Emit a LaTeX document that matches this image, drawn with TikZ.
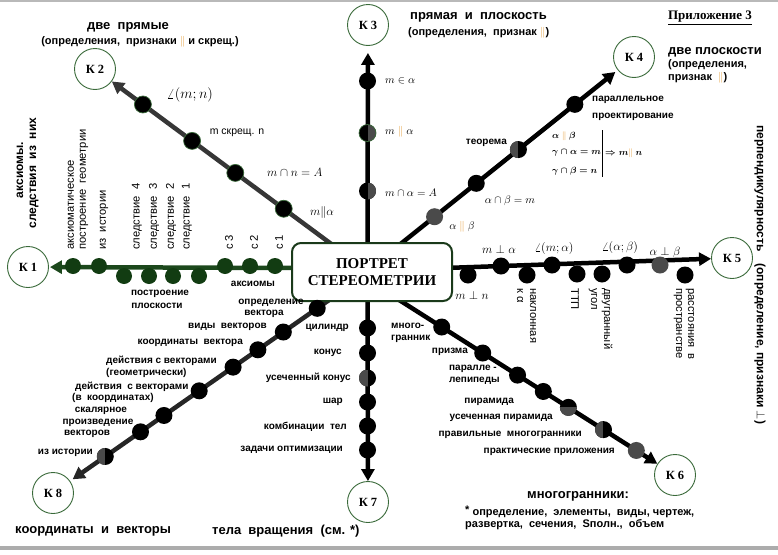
\documentclass[tikz,border=0pt]{standalone}
\usepackage{amsmath}
\usepackage[no-math]{fontspec}
\setmainfont{Liberation Sans}
\newfontfamily\serifnt{Liberation Serif}
\usetikzlibrary{arrows.meta,calc}
\definecolor{dkgreen}{HTML}{1C481C}
\definecolor{dotgreen}{HTML}{123C12}
\definecolor{kgreen}{HTML}{3A6A3A}
\definecolor{boxgreen}{HTML}{1A3A1A}
\definecolor{dgray}{HTML}{363636}
\definecolor{mgray}{HTML}{4A4A4A}
\definecolor{parcol}{HTML}{E39A35}
\newcommand{\parl}{\mathrel{\color{parcol}\|}}
\newcommand{\fs}[1]{\fontsize{#1}{#1}\selectfont}
\begin{document}
\begin{tikzpicture}[x=1pt,y=-1pt,
  kc/.style={circle,draw=kgreen,line width=0.9pt,fill=white,minimum size=41pt,inner sep=0pt,font=\serifnt\bfseries\fs{12.5}},
  dot/.style={circle,fill=black,minimum size=17pt,inner sep=0pt},
  gdot/.style={dot,draw=kgreen,line width=0.7pt},
  grdot/.style={circle,fill=dotgreen,minimum size=16pt,inner sep=0pt},
  graydot/.style={dot,fill=mgray},
  halfR/.style={dot,path picture={\fill[mgray] (path picture bounding box.north) rectangle (path picture bounding box.south east);}},
  halfL/.style={dot,path picture={\fill[mgray] (path picture bounding box.north west) rectangle (path picture bounding box.south);}},
  halfB/.style={dot,path picture={\fill[mgray] (path picture bounding box.west) rectangle (path picture bounding box.south east);}},
  spoke/.style={line width=4.5pt,-{Triangle[length=12pt,width=13pt]}},
  lbl/.style={font=\bfseries\fs{10},inner sep=0pt},
  vlbl/.style={font=\fs{11.2},inner sep=0pt},
  ml/.style={font=\fs{11},inner sep=0pt},
  tl/.style={font=\fs{9},inner sep=0pt,anchor=west},
  ttl/.style={font=\bfseries\fs{13},inner sep=0pt},
  sttl/.style={font=\bfseries\fs{11},inner sep=0pt}]
\useasboundingbox (0,0) rectangle (778,554);
\fill[gray!55] (0,0) rectangle (778,2);
\fill[gray!65] (0,546) rectangle (778,550);

% K circles
\node[kc] (K1) at (28,267) {К 1};
\node[kc] (K2) at (95,69) {К 2};
\node[kc] (K3) at (368,25) {К 3};
\node[kc] (K4) at (634,57) {К 4};
\node[kc] (K5) at (732,258) {К 5};
\node[kc] (K6) at (675,475) {К 6};
\node[kc] (K7) at (368,502) {К 7};
\node[kc] (K8) at (53,493) {К 8};

% spoke starts on the central box
\coordinate (s1) at (300,268);
\coordinate (s2) at (334,246);
\coordinate (s3) at (367.5,250);
\coordinate (s4) at (398,246);
\coordinate (s5) at (445,268);
\coordinate (s6) at (396,298);
\coordinate (s7) at (367.5,295);
\coordinate (s8) at (332,298);

\draw[spoke,dkgreen,shorten >=1pt] (s1) -- (K1);
\draw[spoke,dgray] (s2) -- (K2);
\draw[spoke,black,shorten >=7pt] (s3) -- (K3);
\draw[spoke,black,shorten >=3pt] (s4) -- (K4);
\draw[spoke,black] (s5) -- (K5);
\draw[spoke,black] (s6) -- (K6);
\draw[spoke,black] (s7) -- (K7);
\draw[spoke,black!85,shorten >=3pt] (s8) -- (K8);

% central box
\node[draw=boxgreen,line width=2pt,rounded corners=9pt,fill=white,minimum width=160pt,minimum height=58pt,align=center,font=\serifnt\bfseries\fontsize{15}{17}\selectfont] (C) at (372,272) {ПОРТРЕТ\\СТЕРЕОМЕТРИИ};

% K1 dots
\node[grdot] (a1) at (73,266) {};
\node[grdot] (a2) at (99,266) {};
\node[grdot] (a3) at (124,276) {};
\node[grdot] (a4) at (149,276) {};
\node[grdot] (a5) at (173,276) {};
\node[grdot] (a6) at (199,276) {};
\node[grdot] (a7) at (225,266) {};
\node[grdot] (a8) at (250,266) {};
\node[grdot] (a9) at (275,266) {};

% K2 dots
\node[gdot] (b1) at ($(s2)!(141,107)!(K2)$) {};
\node[gdot] (b2) at ($(s2)!(192,141)!(K2)$) {};
\node[gdot] (b3) at ($(s2)!(233,176)!(K2)$) {};
\node[gdot] (b4) at ($(s2)!(285,207)!(K2)$) {};

% K3 dots
\node[dot] (c1) at (367.5,81) {};
\node[halfR,draw=kgreen,line width=0.7pt] (c2) at (367.5,133) {};
\node[halfR] (c3) at (367.5,191) {};

% K4 dots
\node[graydot] (d1) at ($(s4)!(434,216)!(K4)$) {};
\node[dot] (d2) at ($(s4)!(476,183)!(K4)$) {};
\node[halfL] (d3) at ($(s4)!(518,149)!(K4)$) {};
\node[dot] (d4) at ($(s4)!(577,107)!(K4)$) {};

% K5 dots
\node[dot] (e1) at (468,275) {};
\node[dot] (e2) at (501,266) {};
\node[dot] (e3) at (527,275) {};
\node[dot] (e4) at (552,265) {};
\node[dot] (e5) at (577,274) {};
\node[dot] (e6) at (602,274) {};
\node[dot] (e7) at (627,265) {};
\node[graydot] (e8) at (660,265) {};
\node[dot] (e9) at (685,275) {};

% K6 dots
\node[dot] (f1) at ($(s6)!(443,325)!(K6)$) {};
\node[dot] (f2) at ($(s6)!(484,351)!(K6)$) {};
\node[dot] (f3) at ($(s6)!(517,376)!(K6)$) {};
\node[dot] (f4) at ($(s6)!(543,392)!(K6)$) {};
\node[halfB] (f5) at ($(s6)!(568,408)!(K6)$) {};
\node[halfL] (f6) at ($(s6)!(602,432)!(K6)$) {};
\node[graydot] (f7) at ($(s6)!(636,451)!(K6)$) {};

% K7 dots
\node[dot] (g1) at (367.5,328) {};
\node[dot] (g2) at (367.5,353) {};
\node[halfL] (g3) at (367.5,378) {};
\node[dot] (g4) at (367.5,402) {};
\node[dot] (g5) at (367.5,426) {};
\node[dot] (g6) at (367.5,450) {};

% K8 dots
\node[dot] (h1) at ($(s8)!(317,308)!(K8)$) {};
\node[dot] (h2) at ($(s8)!(284,333)!(K8)$) {};
\node[dot] (h3) at ($(s8)!(258,350)!(K8)$) {};
\node[dot] (h4) at ($(s8)!(233,367)!(K8)$) {};
\node[dot] (h5) at ($(s8)!(200,392)!(K8)$) {};
\node[dot] (h6) at ($(s8)!(165,417)!(K8)$) {};
\node[dot] (h7) at ($(s8)!(142,434)!(K8)$) {};
\node[halfL] (h8) at ($(s8)!(107,459)!(K8)$) {};

% ---- titles
\node[ttl] (t2) at (128,27) {две\ \ прямые};
\node[sttl] (t2b) at (140,42) {(определения,\ \ признаки {\color{parcol}$\|$} и скрещ.)};
\node[ttl,anchor=west] (t3) at (410,17) {прямая\ \ и\ \ плоскость};
\node[sttl,anchor=west] (t3b) at (408,33) {(определения,\ \ признак {\color{parcol}$\|$})};
\node[font=\serifnt\bfseries\fs{13},inner sep=0pt] (app) at (710,18) {\underline{Приложение 3}};
\node[ttl,anchor=west] (t4) at (668,52) {две плоскости};
\node[font=\bfseries\fs{11},inner sep=0pt,anchor=west] (t4b) at (668,65) {(определения,};
\node[font=\bfseries\fs{11},inner sep=0pt,anchor=west] (t4c) at (668,78) {признак\ \ {\color{parcol}$\|$})};
\node[font=\bfseries\fs{12},inner sep=0pt,rotate=90] (t1a) at (20,170) {аксиомы.};
\node[font=\bfseries\fs{12},inner sep=0pt,rotate=90] (t1b) at (34,173) {следствия\ \ из\ \ них};
\node[font=\bfseries\fs{12},inner sep=0pt,rotate=-90,anchor=west] (t5) at (760,125) {перпендикулярность\quad (определение,\ признаки $\perp$)};
\node[ttl,anchor=west] (t8) at (15,531) {координаты\ \ и\ \ векторы};
\node[ttl,anchor=west] (t7) at (212,531) {тела\ \ вращения\ \ (см. *)};
\node[ttl] (t6) at (578,496) {многогранники:};
\node[font=\bfseries\fs{11},inner sep=0pt,anchor=west] (t6b) at (465,512) {\raisebox{2pt}{*} определение,\ \ элементы,\ \ виды, чертеж,};
\node[font=\bfseries\fs{11},inner sep=0pt,anchor=west] (t6c) at (465,525) {развертка,\ \ сечения,\ \ Sполн.,\ \ объем};

% ---- K1 labels
\node[vlbl,rotate=90,anchor=west] at (71,250) {аксиоматическое};
\node[vlbl,rotate=90,anchor=west] at (84,250) {построение\ \ геометрии};
\node[vlbl,rotate=90,anchor=west] at (104,250) {из\ \ истории};
\node[vlbl,rotate=90,anchor=west] at (137,250) {следствие\ \ 4};
\node[vlbl,rotate=90,anchor=west] at (154,250) {следствие\ \ 3};
\node[vlbl,rotate=90,anchor=west] at (171,250) {следствие\ \ 2};
\node[vlbl,rotate=90,anchor=west] at (187,250) {следствие\ \ 1};
\node[vlbl,rotate=90,anchor=west] at (229,250) {с 3};
\node[vlbl,rotate=90,anchor=west] at (254,250) {с 2};
\node[vlbl,rotate=90,anchor=west] at (279,250) {с 1};
\node[lbl] at (160,294) {построение};
\node[lbl] at (157,306) {плоскости};
\node[lbl] at (253,284) {аксиомы};

% ---- K2 labels
\node[font=\fs{14},inner sep=0pt] at (190,95) {$\angle(m;n)$};
\node[font=\fs{10.5},inner sep=0pt] at (237,133) {m скрещ. n};
\node[font=\fs{12},inner sep=0pt,anchor=west] at (267,172) {$m\cap n=A$};
\node[font=\fs{12},inner sep=0pt] at (322,212) {$m\|\alpha$};

% ---- K3 labels
\node[ml,anchor=west] at (385,81) {$m\in\alpha$};
\node[ml,anchor=west] at (385,132) {$m\parl\alpha$};
\node[ml,anchor=west] at (385,193) {$m\cap\alpha=A$};

% ---- K4 labels
\node[ml] at (462,227) {$\alpha\parl\beta$};
\node[ml] at (510,201) {$\alpha\cap\beta=m$};
\node[lbl,anchor=east] at (507,143) {теорема};
\node[tl] (th1) at (552,136) {$\boldsymbol{\alpha}\parl\boldsymbol{\beta}$};
\node[tl] (th2) at (552,153) {$\boldsymbol{\gamma\cap\alpha=m}$};
\node[tl] (th3) at (552,171) {$\boldsymbol{\gamma\cap\beta=n}$};
\draw[line width=0.9pt] (602,130) -- (602,177);
\node[tl] (th4) at (605,153) {$\boldsymbol{\Rightarrow m}\parl\boldsymbol{n}$};
\node[lbl,anchor=west] at (592,100) {параллельное};
\node[lbl,anchor=west] at (592,117) {проектирование};

% ---- K5 labels
\node[font=\fs{12},inner sep=0pt] at (499,249) {$m\perp\alpha$};
\node[font=\fs{12},inner sep=0pt] at (554,248) {$\angle(m;\alpha)$};
\node[font=\fs{12},inner sep=0pt] at (620,247) {$\angle(\alpha;\beta)$};
\node[font=\fs{12},inner sep=0pt] at (665,252) {$\alpha\perp\beta$};
\node[font=\fs{12},inner sep=0pt] at (472,295) {$m\perp n$};
\node[vlbl,rotate=-90,anchor=west] at (533,288) {наклонная};
\node[vlbl,rotate=-90,anchor=west] at (520,288) {к α};
\node[vlbl,rotate=-90,anchor=west] at (575,288) {ТТП};
\node[vlbl,rotate=-90,anchor=west] at (607,288) {двугранный};
\node[vlbl,rotate=-90,anchor=west] at (593,288) {угол};
\node[vlbl,rotate=-90,anchor=west] at (690,288) {расстояния\ \ в};
\node[vlbl,rotate=-90,anchor=west] at (678,288) {пространстве};

% ---- K6 labels
\node[lbl,anchor=west] at (391,326) {много-};
\node[lbl,anchor=west] at (391,339) {гранник};
\node[lbl,anchor=east] at (468,352) {призма};
\node[lbl,anchor=west] at (449,369) {паралле -};
\node[lbl,anchor=west] at (449,381) {лепипеды};
\node[lbl,anchor=east] at (514,402) {пирамида};
\node[lbl,anchor=east] at (553,418) {усеченная пирамида};
\node[lbl,anchor=east] at (582,435) {правильные\ \ многогранники};
\node[lbl,anchor=east] at (615,452) {практические приложения};

% ---- K7 labels
\node[lbl,anchor=east] at (349,328) {цилиндр};
\node[lbl,anchor=east] at (342,353) {конус};
\node[lbl,anchor=east] at (351,378) {усеченный конус};
\node[lbl,anchor=east] at (343,402) {шар};
\node[lbl,anchor=east] at (347,427) {комбинации\ \ тел};
\node[lbl,anchor=east] at (343,450) {задачи оптимизации};

% ---- K8 labels
\node[lbl] at (271,303) {определение};
\node[lbl] at (264,314) {вектора};
\node[lbl,anchor=east] at (267,327) {виды\ \ векторов};
\node[lbl,anchor=east] at (243,343) {координаты\ \ вектора};
\node[lbl,anchor=west] at (106,361) {действия с векторами};
\node[lbl,anchor=west] at (106,373) {(геометрически)};
\node[lbl,anchor=west] at (75,387) {действия\ \ с векторами};
\node[lbl,anchor=west] at (72,398) {(в\ \ координатах)};
\node[lbl] at (101,411) {скалярное};
\node[lbl] at (98,423) {произведение};
\node[lbl,anchor=west] at (64,434) {векторов};
\node[lbl,anchor=east] at (93,453) {из истории};
\end{tikzpicture}
\end{document}
